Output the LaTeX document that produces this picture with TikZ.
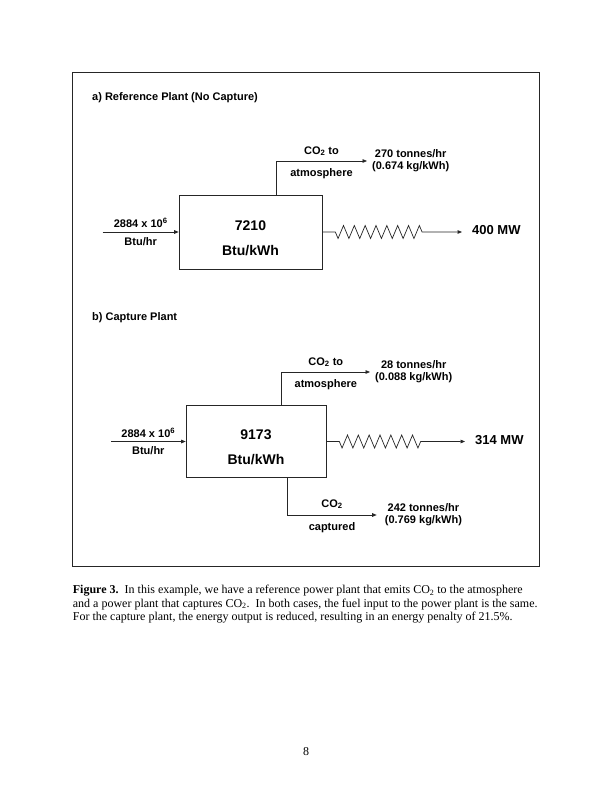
\documentclass[tikz,border=0pt]{standalone}
\usepackage{fontspec}
\setmainfont{Liberation Serif}
\setsansfont{Liberation Sans}
\usepackage{tikz}
\usetikzlibrary{arrows.meta,calc,positioning,decorations.pathmorphing}
\tikzset{
	x=1pt,y=-1pt,
	stream/.style={-{Triangle[length=4.5pt,width=3.6pt]},line width=0.7pt,draw=black!85},
	plant/.style={rectangle,draw=black!85,line width=0.7pt,inner sep=0pt},
	plantval/.style={align=center,inner sep=0pt,font=\sffamily\bfseries\fontsize{14}{25}\selectfont},
	lbl/.style={font=\sffamily\bfseries\fontsize{11}{12}\selectfont,inner sep=2pt},
	yield/.style={lbl,align=center,right=3pt},
	power/.style={font=\sffamily\bfseries\fontsize{13}{15}\selectfont,inner sep=0pt,anchor=west},
	heading/.style={font=\sffamily\bfseries\fontsize{11}{13}\selectfont,anchor=west,inner sep=0pt},
	coil/.style={decorate,decoration={zigzag,mirror,amplitude=6.5pt,segment length=10.84pt,pre length=13pt,post length=39pt}},
	caption/.style={font=\fontsize{12}{13.4}\selectfont,align=left,anchor=north west,inner sep=0pt}
}

\begin{document}
\begin{tikzpicture}
    \fill[white] (0,0) rectangle (612,792);
    \useasboundingbox (0,0) rectangle (612,792);
    \draw[black!85,line width=0.7pt] (72,72) rectangle (539,566);

    % a) reference plant
    \node[heading] (ha) at (92,98) {a) Reference Plant (No Capture)};
    \node[plant, minimum width=143pt, minimum height=74pt] (boxa) at (250.5,232) {};
    \node[plantval] (vala) at (250.5,238) {7210\\Btu/kWh};
    \coordinate (fuela) at (102.7,232);
    \coordinate (atma) at (367,161);
    \node[power] (mwa) at (472,230) {400 MW};

    \draw[stream] (fuela) -- node[lbl,above=2pt]{2884 x 10\textsuperscript{6}} node[lbl,below=3pt]{Btu/hr} (boxa.west);
    \draw[stream] ([xshift=25.5pt]boxa.north) |- node[lbl,pos=0.75,above=3pt]{CO\textsubscript{2} to} node[lbl,pos=0.75,below=5pt]{atmosphere} (atma);
    \node[yield] at (atma) {270 tonnes/hr\\(0.674 kg/kWh)};
    \draw[stream,coil] (boxa.east) -- ([xshift=-10pt]boxa.east -| mwa.west);

    % b) capture plant
    \node[heading] (hb) at (92,318) {b) Capture Plant};
    \node[plant, minimum width=140pt, minimum height=72pt] (boxb) at (256,441.5) {};
    \node[plantval] (valb) at (256,447) {9173\\Btu/kWh};
    \coordinate (fuelb) at (111,441.5);
    \coordinate (atmb) at (370,372);
    \coordinate (capb) at (376.7,515);
    \node[power] (mwb) at (475,440) {314 MW};

    \draw[stream] (fuelb) -- node[lbl,above=2pt]{2884 x 10\textsuperscript{6}} node[lbl,below=3pt]{Btu/hr} (boxb.west);
    \draw[stream] ([xshift=25.7pt]boxb.north) |- node[lbl,pos=0.75,above=3pt]{CO\textsubscript{2} to} node[lbl,pos=0.75,below=5pt]{atmosphere} (atmb);
    \node[yield] at (atmb) {28 tonnes/hr\\(0.088 kg/kWh)};
    \draw[stream,coil] (boxb.east) -- ([xshift=-10pt]boxb.east -| mwb.west);
    \draw[stream] ([xshift=31.3pt]boxb.south) |- node[lbl,pos=0.75,above=4pt]{CO\textsubscript{2}} node[lbl,pos=0.75,below=5pt]{captured} (capb);
    \node[yield,right=6pt] at (capb) {242 tonnes/hr\\(0.769 kg/kWh)};

    % caption and page number
    \node[caption] (cap) at (72.7,585) {\textbf{Figure 3.}\ \ In this example, we have a reference power plant that emits CO\textsubscript{2} to the atmosphere\\
    and a power plant that captures CO\textsubscript{2}.\ \ In both cases, the fuel input to the power plant is the same.\\
    For the capture plant, the energy output is reduced, resulting in an energy penalty of 21.5\%.};
    \node[font=\fontsize{12}{14}\selectfont] (pg) at (306,752) {8};
\end{tikzpicture}
\end{document}
